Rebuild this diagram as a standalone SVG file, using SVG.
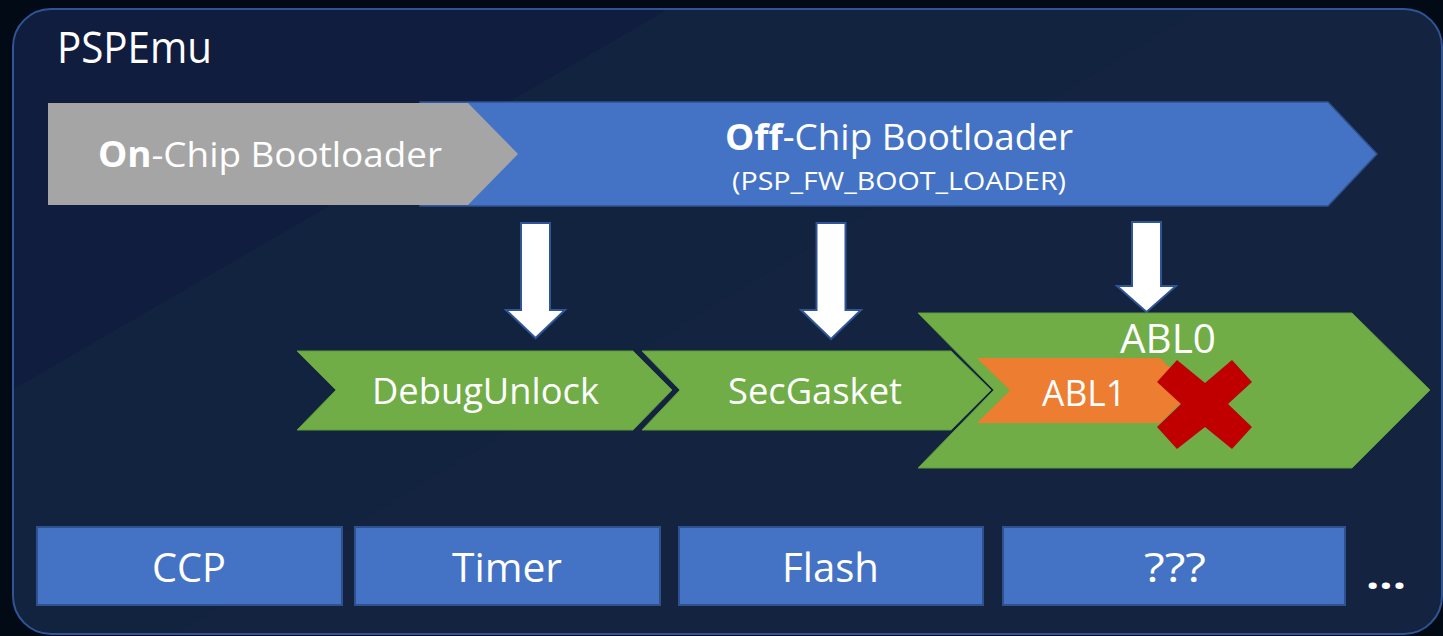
<svg xmlns="http://www.w3.org/2000/svg" width="1443" height="636" viewBox="0 0 1443 636">
<defs>
<style>
text{font-family:"Open Sans","Noto Sans","Liberation Sans",sans-serif;fill:#ffffff;}
.blk{fill:#4472c4;stroke:#2f528f;stroke-width:2;}
.grn{fill:#70ad47;stroke:#5f9a3a;stroke-width:1;}
.arr{fill:#ffffff;stroke:#2f5597;stroke-width:2;stroke-linejoin:miter;}
</style>
<clipPath id="frameClip"><rect x="13" y="9" width="1429" height="625" rx="38" ry="38"/></clipPath>
</defs>
<rect x="0" y="0" width="1443" height="636" fill="#020a16"/>
<g id="frame">
<rect x="13" y="9" width="1429" height="625" rx="38" ry="38" fill="#12233f"/>
<g clip-path="url(#frameClip)">
<polygon points="0,0 684,0 0,397" fill="#101d3e"/>
<polygon points="1215,0 1443,0 1443,636 172,636" fill="#15233f" opacity="0.6"/>
</g>
<rect x="13" y="9" width="1429" height="625" rx="38" ry="38" fill="none" stroke="#2f5597" stroke-width="2"/>
<text x="57" y="63" font-size="44" textLength="155" lengthAdjust="spacingAndGlyphs">PSPEmu</text>
</g>
<g id="offchip">
<polygon points="420,102 1328,102 1377,154 1328,206 420,206" fill="#4472c4" stroke="#2f528f" stroke-width="1.5"/>
<text x="725" y="150" font-size="36" textLength="348" lengthAdjust="spacingAndGlyphs"><tspan font-weight="bold">Off</tspan>-Chip Bootloader</text>
<text x="732" y="190" font-size="25" textLength="334" lengthAdjust="spacingAndGlyphs">(PSP_FW_BOOT_LOADER)</text>
</g>
<g id="onchip">
<polygon points="48,103 468,103 518,154 468,205 48,205" fill="#a5a5a5"/>
<text x="98" y="167" font-size="35" textLength="344" lengthAdjust="spacingAndGlyphs"><tspan font-weight="bold">On</tspan>-Chip Bootloader</text>
</g>
<g id="connectors">
<polygon class="arr" points="521,223 550,223 550,310 565,310 535.5,338 506,310 521,310"/>
<polygon class="arr" points="816.5,223 845.5,223 845.5,310 861,310 831,339 801,310 816.5,310"/>
<polygon class="arr" points="1132,222 1161,222 1161,286 1176,286 1146.5,312 1117,286 1132,286"/>
</g>
<g id="debugunlock">
<polygon class="grn" points="297,351 633,351 672,390 633,430 297,430 336,390"/>
<text x="372" y="404" font-size="37" textLength="227" lengthAdjust="spacingAndGlyphs">DebugUnlock</text>
</g>
<g id="secgasket">
<polygon class="grn" points="642,351 951,351 991,390 951,430 642,430 680,390"/>
<text x="728" y="404" font-size="37" textLength="174" lengthAdjust="spacingAndGlyphs">SecGasket</text>
</g>
<g id="abl0">
<polygon class="grn" points="918,313 1352,313 1430,390 1352,468 918,468 994,390"/>
<text x="1120" y="353" font-size="41" textLength="96" lengthAdjust="spacingAndGlyphs">ABL0</text>
</g>
<g id="abl1">
<polygon points="977,358 1160,358 1193,390.5 1160,423 977,423 1010,390.5" fill="#ed7d31"/>
<text x="1042" y="406" font-size="37" textLength="84" lengthAdjust="spacingAndGlyphs">ABL1</text>
</g>
<g id="fail-mark">
<polygon points="1177,360 1205,383 1232,360 1252,382 1228,404 1252,427 1232,449 1205,427 1177,449 1157,427 1181,404 1157,382" fill="#c00000"/>
</g>
<g id="ccp">
<rect class="blk" x="37" y="527" width="305" height="78"/>
<text x="152" y="582" font-size="41" textLength="74" lengthAdjust="spacingAndGlyphs">CCP</text>
</g>
<g id="timer">
<rect class="blk" x="355" y="527" width="305" height="78"/>
<text x="452" y="582" font-size="41" textLength="110" lengthAdjust="spacingAndGlyphs">Timer</text>
</g>
<g id="flash">
<rect class="blk" x="679" y="527" width="304" height="78"/>
<text x="782" y="582" font-size="41" textLength="97" lengthAdjust="spacingAndGlyphs">Flash</text>
</g>
<g id="unknown">
<rect class="blk" x="1003" y="527" width="342" height="78"/>
<text x="1144" y="582" font-size="41" textLength="62" lengthAdjust="spacingAndGlyphs">???</text>
</g>
<g id="more">
<text x="1366" y="589" font-size="40" textLength="40" lengthAdjust="spacingAndGlyphs" font-weight="bold">...</text>
</g>
</svg>
